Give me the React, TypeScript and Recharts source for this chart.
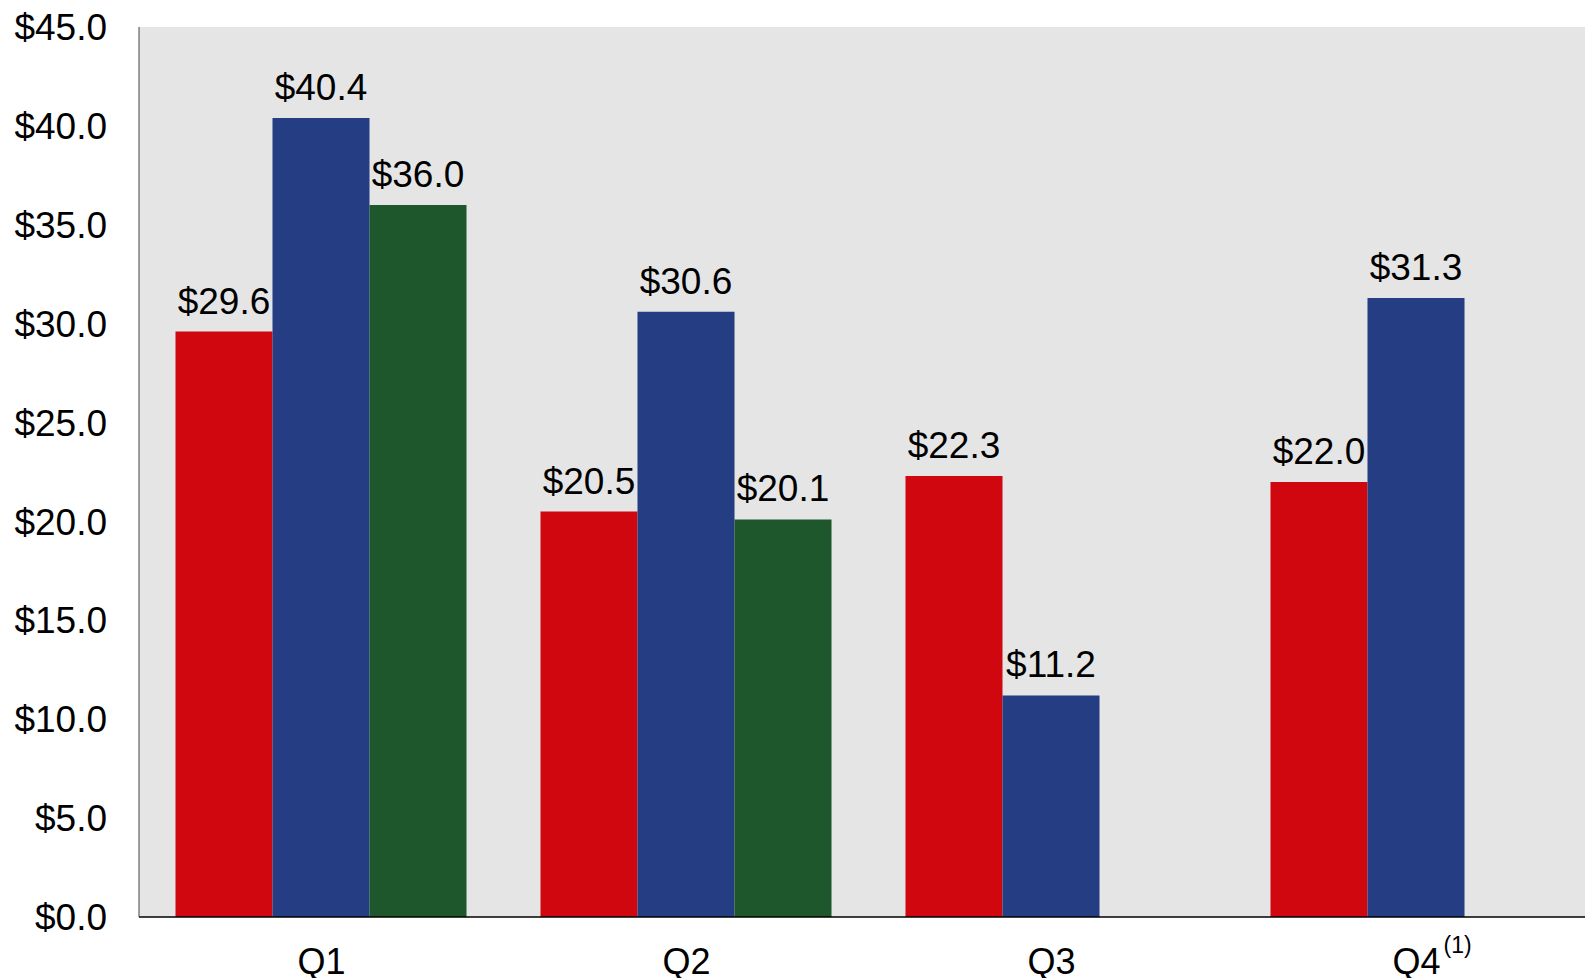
import React from 'react';
import { BarChart, Bar, XAxis, YAxis, CartesianGrid, LabelList } from 'recharts';

const categories = ['Q1', 'Q2', 'Q3', 'Q4'];
const seriesA = [29.6, 20.5, 22.3, 22.0];
const seriesB = [40.4, 30.6, 11.2, 31.3];
const seriesC: (number | null)[] = [36.0, 20.1, null, null];
const yTicks = [0, 5, 10, 15, 20, 25, 30, 35, 40, 45];
const footnotes: Record<string, string> = { Q4: '(1)' };

const data = categories.map((c, i) => ({
  name: c,
  a: seriesA[i],
  b: seriesB[i],
  c: seriesC[i],
}));

const FONT = '"Liberation Sans", Arial, sans-serif';
const NUM_SIZE = 37;

const fmt = (v: any) => (v === null || v === undefined ? '' : `$${Number(v).toFixed(1)}`);

const XTick = (props: any) => {
  const { x, y, payload } = props;
  const label = payload.value as string;
  const note = footnotes[label];
  return (
    <g>
      <text x={x} y={y + 57} textAnchor="middle" fontSize={36} fontFamily={FONT} fill="#000">
        {label}
      </text>
      {note && (
        <text x={x + 27} y={y + 36} textAnchor="start" fontSize={23} fontFamily={FONT} fill="#000">
          {note}
        </text>
      )}
    </g>
  );
};

const labelStyle = { fontSize: NUM_SIZE, fontFamily: FONT, fill: '#000' };

export default function App() {
  return (
    <div style={{ position: 'absolute', left: 0, top: 0, width: 1585, height: 978, overflow: 'hidden', background: '#fff' }}>
      <BarChart
        width={1600}
        height={978}
        data={data}
        margin={{ top: 27, right: 1, bottom: 0, left: 0 }}
        barCategoryGap="10%"
        barGap={0}
      >
        <CartesianGrid fill="#E5E5E5" stroke="none" horizontal={false} vertical={false} />
        <XAxis
          dataKey="name"
          height={61}
          axisLine={{ stroke: '#000', strokeWidth: 1.5 }}
          tickLine={false}
          tickSize={0}
          tickMargin={0}
          tick={<XTick />}
          interval={0}
        />
        <YAxis
          width={139}
          domain={[0, 45]}
          ticks={yTicks}
          interval={0}
          tickFormatter={(v: number) => `$${v.toFixed(1)}`}
          axisLine={{ stroke: '#444', strokeWidth: 1 }}
          tickLine={false}
          tickSize={0}
          tickMargin={32}
          tick={{ fontSize: NUM_SIZE, fontFamily: FONT, fill: '#000' }}
        />
        <Bar dataKey="a" fill="#D0070F" isAnimationActive={false}>
          <LabelList dataKey="a" position="top" offset={18} formatter={fmt} style={labelStyle} />
        </Bar>
        <Bar dataKey="b" fill="#253D82" isAnimationActive={false}>
          <LabelList dataKey="b" position="top" offset={18} formatter={fmt} style={labelStyle} />
        </Bar>
        <Bar dataKey="c" fill="#1F572C" isAnimationActive={false}>
          <LabelList dataKey="c" position="top" offset={18} formatter={fmt} style={labelStyle} />
        </Bar>
      </BarChart>
    </div>
  );
}
